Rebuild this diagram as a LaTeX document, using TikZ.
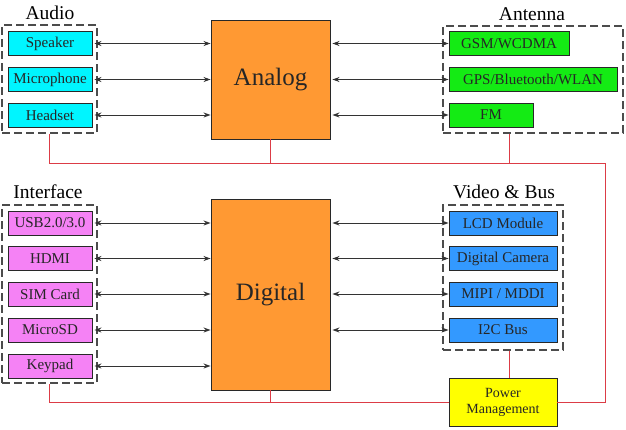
\documentclass[tikz,border=0pt]{standalone}
\usepackage{fontspec}
\setmainfont{Liberation Serif}
\usetikzlibrary{arrows.meta}
\definecolor{cyanF}{RGB}{0,245,255}
\definecolor{greenF}{RGB}{20,235,20}
\definecolor{pinkF}{RGB}{245,130,245}
\definecolor{blueF}{RGB}{51,153,255}
\definecolor{orangeF}{RGB}{255,153,51}
\definecolor{yellowF}{RGB}{255,255,0}
\definecolor{redL}{RGB}{220,60,70}
\definecolor{edgeC}{RGB}{40,40,40}
\begin{document}
\begin{tikzpicture}[x=1pt,y=-1pt,
  box/.style={draw=edgeC,line width=0.9pt,inner sep=0pt,minimum height=24pt,font=\fontsize{15}{15}\selectfont,text=black!85},
  core/.style={draw=edgeC,line width=0.9pt,fill=orangeF,inner sep=0pt,minimum width=119pt,font=\fontsize{25}{25}\selectfont,text=black!85},
  grp/.style={draw=black!70,line width=1.2pt,dash pattern=on 8pt off 4pt,inner sep=0pt},
  lbl/.style={inner sep=0pt,font=\fontsize{19.5}{19.5}\selectfont},
  arr/.style={line width=0.9pt,black!80,{Stealth[length=7pt,width=5pt]}-{Stealth[length=7pt,width=5pt]}},
  rl/.style={line width=0.9pt,redL}]
\useasboundingbox (0,0) rectangle (626,429);
% groups
\node[grp,minimum width=95pt,minimum height=108pt] (gA) at (49.5,79) {};
\node[grp,minimum width=180pt,minimum height=107pt] (gN) at (533,79.5) {};
\node[grp,minimum width=95pt,minimum height=178pt] (gI) at (49.5,294) {};
\node[grp,minimum width=120pt,minimum height=145pt] (gV) at (503,277.5) {};
% labels
\node[lbl] (lA) at (50,13) {Audio};
\node[lbl] (lN) at (532,14) {Antenna};
\node[lbl] (lI) at (48,192) {Interface};
\node[lbl] (lV) at (504,192) {Video \& Bus};
% audio
\node[box,fill=cyanF,minimum width=84pt] (spk) at (50,43.5) {Speaker};
\node[box,fill=cyanF,minimum width=84pt] (mic) at (50,79.5) {Microphone};
\node[box,fill=cyanF,minimum width=84pt] (hs) at (50,115) {Headset};
% antenna
\node[box,fill=greenF,minimum width=120pt] (gsm) at (509,43.5) {GSM/WCDMA};
\node[box,fill=greenF,minimum width=168pt] (gps) at (533,79.5) {GPS/Bluetooth/WLAN};
\node[box,fill=greenF,minimum width=84pt] (fm) at (491,115) {FM};
% cores
\node[core,minimum height=119pt] (ana) at (270.5,79.5) {Analog};
\node[core,minimum height=191pt] (dig) at (270.5,294.5) {Digital};
% interface
\node[box,fill=pinkF,minimum width=84pt] (usb) at (50,223) {USB2.0/3.0};
\node[box,fill=pinkF,minimum width=84pt] (hdmi) at (50,258.5) {HDMI};
\node[box,fill=pinkF,minimum width=84pt] (sim) at (50,294) {SIM Card};
\node[box,fill=pinkF,minimum width=84pt] (sd) at (50,330) {MicroSD};
\node[box,fill=pinkF,minimum width=84pt] (kp) at (50,366) {Keypad};
% video & bus
\node[box,fill=blueF,minimum width=108pt] (lcd) at (503,223) {LCD Module};
\node[box,fill=blueF,minimum width=108pt] (cam) at (503,258.5) {Digital Camera};
\node[box,fill=blueF,minimum width=108pt] (mipi) at (503,294) {MIPI / MDDI};
\node[box,fill=blueF,minimum width=108pt] (i2c) at (503,330) {I2C Bus};
% power
\node[box,fill=yellowF,minimum width=108pt,minimum height=48pt,align=center,font=\fontsize{14}{16}\selectfont] (pw) at (503,402) {Power\\Management};
% arrows left
\foreach \n in {spk,mic,hs}{\draw[arr] ([xshift=2pt]\n.east) -- (\n.east -| ana.west);}
\foreach \n in {usb,hdmi,sim,sd,kp}{\draw[arr] ([xshift=2pt]\n.east) -- (\n.east -| dig.west);}
% arrows right
\foreach \n in {gsm,gps,fm}{\draw[arr] ([xshift=2pt]\n.west -| ana.east) -- (\n.west);}
\foreach \n in {lcd,cam,mipi,i2c}{\draw[arr] ([xshift=2pt]\n.west -| dig.east) -- (\n.west);}
% red power lines
\coordinate (tl) at (49.5,163);
\coordinate (tr) at (605,163);
\coordinate (br) at (605,402);
\coordinate (bl) at (49.5,402);
\draw[rl] (gA.south) -- (tl) -- (tr) -- (br) -- (pw.east);
\draw[rl] (pw.west) -- (bl) -- (gI.south);
\draw[rl] (ana.south) -- (ana.south |- tl);
\draw[rl] (gsm.south |- gN.south) -- (gsm.south |- tl);
\draw[rl] (dig.south) -- (dig.south |- bl);
\draw[rl] ([xshift=6pt]gV.south) -- ([xshift=6pt]pw.north);
\end{tikzpicture}
\end{document}
